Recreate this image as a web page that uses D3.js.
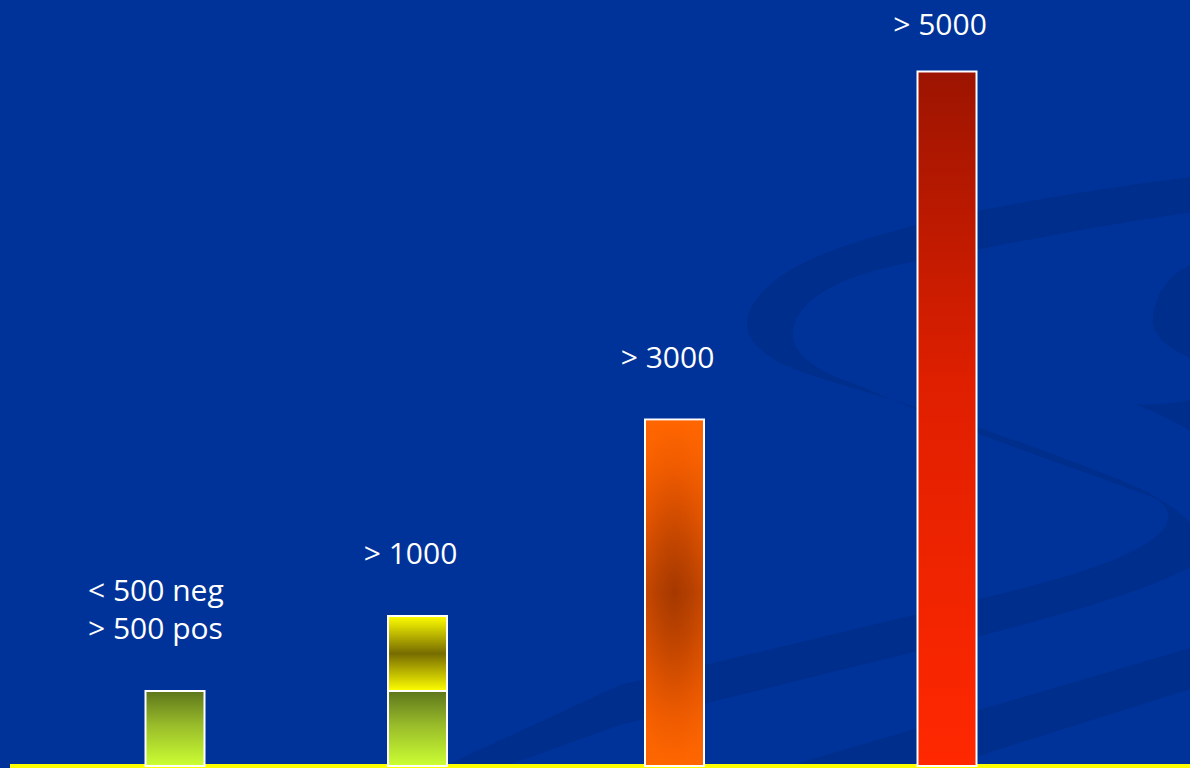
<!DOCTYPE html>
<html>
<head>
<meta charset="utf-8">
<script src="https://cdn.jsdelivr.net/npm/d3@7"></script>
<style>
  html, body { margin: 0; padding: 0; background: #003399; overflow: hidden; }
  svg { display: block; }
</style>
</head>
<body>
<script>
// categories and the stacked values
var categories = ["lt500", "gt1000", "gt3000", "gt5000"];
var greenValues  = [500, 500, 0, 0];
var yellowValues = [0, 500, 0, 0];
var orangeValues = [0, 0, 2310, 0];
var redValues    = [0, 0, 0, 4630];
var labelLines = [["< 500 neg", "> 500 pos"], ["> 1000"], ["> 3000"], ["> 5000"]];

var width = 1190,
    height = 768;

var svg = d3.select("body")
    .append("svg")
    .attr("width", width)
    .attr("height", height);

// gradients for each series
var defs = svg.append("defs");

function linear(id, stops) {
    var g = defs.append("linearGradient")
        .attr("id", id)
        .attr("x1", 0).attr("y1", 0)
        .attr("x2", 0).attr("y2", 1);
    stops.forEach(function(s) {
        g.append("stop").attr("offset", s[0]).attr("stop-color", s[1]);
    });
}
linear("gGreen", [[0, "#5e761c"], [0.45, "#98bb2a"], [1, "#ccff33"]]);
linear("gYellow", [[0, "#ffff00"], [0.5, "#776c00"], [1, "#ffff00"]]);
linear("gRed", [[0, "#9c1400"], [0.45, "#df1f00"], [1, "#ff2800"]]);
linear("gOrangeBase", [[0, "#ff6600"], [0.12, "#f55e00"], [0.3, "#d44d00"],
                       [0.5, "#a83a00"], [0.68, "#cc4a00"], [0.85, "#ee5c00"], [1, "#ff6600"]]);

// slight darker spot in the middle of the orange bar
var rad = defs.append("radialGradient")
    .attr("id", "gOrange")
    .attr("cx", 0.5).attr("cy", 0.5).attr("r", 0.5)
    .attr("gradientTransform", "translate(0.5,0.5) scale(1.6,1) translate(-0.5,-0.5)");
rad.append("stop").attr("offset", 0).attr("stop-color", "#a23600");
rad.append("stop").attr("offset", 0.35).attr("stop-color", "#c04500");
rad.append("stop").attr("offset", 0.7).attr("stop-color", "#ea5800");
rad.append("stop").attr("offset", 1).attr("stop-color", "#ff6600");

// faint swirl in the background (slide decoration)
var swirl = svg.append("g").attr("fill", "#002e8c");
swirl.append("path").attr("d",
    "M1200,176 C1000,200 850,235 790,270 C750,295 740,320 752,340 " +
    "C770,365 810,375 860,390 C960,420 1050,452 1110,476 " +
    "C1165,497 1195,520 1200,540 L1200,562 C1150,590 1080,610 980,636 " +
    "C880,660 760,690 620,725 L500,768 L440,768 L620,685 " +
    "C760,652 880,623 980,599 C1080,575 1140,555 1163,530 " +
    "C1175,515 1165,502 1150,496 C1080,470 960,430 860,386 " +
    "C810,370 790,350 793,330 C797,300 840,275 913,262 " +
    "C1000,245 1100,225 1200,211 Z");
swirl.append("path").attr("d",
    "M1200,262 C1175,268 1155,290 1153,318 C1152,338 1170,350 1200,362 Z");
swirl.append("path").attr("d",
    "M1135,404 C1160,406 1180,402 1200,398 L1200,436 C1180,425 1160,414 1135,404 Z");
swirl.append("path").attr("d",
    "M1200,645 L1200,686 L940,768 L782,768 Z");

// yellow base line
svg.append("rect")
    .attr("x", 10)
    .attr("y", 764)
    .attr("width", width - 10)
    .attr("height", 4)
    .attr("fill", "#ffff00");

// scales
var x = d3.scaleOrdinal()
    .domain(categories)
    .range([175, 417.5, 674.5, 947]);

var y = d3.scaleLinear()
    .domain([0, 5000])
    .range([766, 16]);

var barWidth = 59;

var table = categories.map(function(c, i) {
    return { cat: c, green: greenValues[i], yellow: yellowValues[i],
             orange: orangeValues[i], red: redValues[i] };
});

var keys = ["green", "yellow", "orange", "red"];
var fills = { green: "url(#gGreen)", yellow: "url(#gYellow)",
              orange: "url(#gOrangeBase)", red: "url(#gRed)" };

var stacked = d3.stack().keys(keys)(table);

var layers = svg.append("g")
    .selectAll("g")
    .data(stacked)
    .enter()
    .append("g")
    .attr("fill", function(d) { return fills[d.key]; });

var segs = layers.selectAll("rect")
    .data(function(d) { return d.filter(function(s) { return s[1] - s[0] > 0; }); })
    .enter()
    .append("rect")
    .attr("x", function(d) { return x(d.data.cat) - barWidth / 2; })
    .attr("y", function(d) { return y(d[1]); })
    .attr("width", barWidth)
    .attr("height", function(d) { return y(d[0]) - y(d[1]); })
    .attr("stroke", "#ffffff")
    .attr("stroke-width", 2);

// the dark centre of the orange bar on top of its base gradient
svg.append("g")
    .selectAll("rect")
    .data(stacked[2].filter(function(s) { return s[1] - s[0] > 0; }))
    .enter()
    .append("rect")
    .attr("x", function(d) { return x(d.data.cat) - barWidth / 2 + 1; })
    .attr("y", function(d) { return y(d[1]) + 1; })
    .attr("width", barWidth - 2)
    .attr("height", function(d) { return y(d[0]) - y(d[1]) - 2; })
    .attr("fill", "url(#gOrange)")
    .attr("opacity", 0.5);

// labels above the bars
var totals = table.map(function(d) { return d.green + d.yellow + d.orange + d.red; });

var labels = svg.append("g")
    .attr("fill", "#ffffff")
    .style("font-family", "'Comic Sans MS', 'Open Sans', sans-serif")
    .style("font-size", "30px");

categories.forEach(function(c, i) {
    var lines = labelLines[i];
    var multi = lines.length > 1;
    var lastBase = Math.max(35, y(totals[i]) - 52);
    var t = labels.append("text")
        .attr("text-anchor", multi ? "start" : "middle");
    lines.forEach(function(line, j) {
        t.append("tspan")
            .attr("x", multi ? x(c) - 87 : x(c) - 7)
            .attr("y", lastBase - (lines.length - 1 - j) * 38)
            .text(line);
    });
});
</script>
</body>
</html>
